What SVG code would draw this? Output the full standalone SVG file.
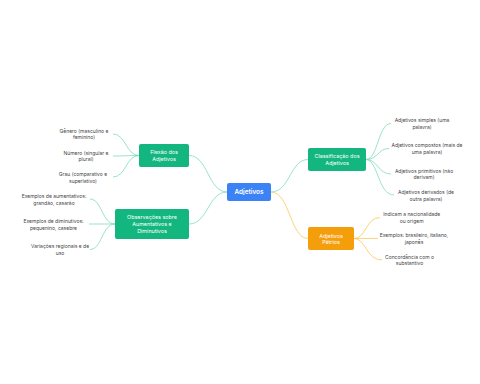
<svg xmlns="http://www.w3.org/2000/svg" width="480" height="384" viewBox="0 0 480 384">
<style>
.leaf{font-family:Inter,"Liberation Sans",sans-serif;font-size:5px;fill:#3f3f46;text-anchor:middle;dominant-baseline:central}
.nt{font-family:Inter,"Liberation Sans",sans-serif;font-size:5.4px;fill:#ffffff;text-anchor:middle;dominant-baseline:central}
.ct{font-family:Inter,"Liberation Sans",sans-serif;font-size:6.4px;font-weight:600;fill:#ffffff;text-anchor:middle;dominant-baseline:central}
.g{fill:none;stroke:#7fdcb6;stroke-width:0.8}
.o{fill:none;stroke:#fbc75a;stroke-width:0.8}
.gb{fill:#13b67e}
.ob{fill:#f59e0b}
.bb{fill:#3b82f6}
</style>
<rect width="480" height="384" fill="#ffffff"/>
<g id="connectors">
<path class="g" d="M227,192 C208,192 208,155.5 189,155.5"/>
<path class="g" d="M227,192 C208,192 208,224 189,224"/>
<path class="g" d="M271,192 C290,192 290,159.5 308,159.5"/>
<path class="o" d="M271,192 C290,192 290,238.5 308,238.5"/>
<path class="g" d="M139,155.5 C126,155.5 126,134 113,134"/>
<path class="g" d="M139,155.5 C126,155.5 126,156 113,156"/>
<path class="g" d="M139,155.5 C126,155.5 126,177 113,177"/>
<path class="g" d="M115,224 C102,224 102,199 90,199"/>
<path class="g" d="M115,224 C102,224 102,224 89,224"/>
<path class="g" d="M115,224 C102,224 102,249.5 90,249.5"/>
<path class="g" d="M366,159.5 C378,159.5 378,123.5 391,123.5"/>
<path class="g" d="M366,159.5 C378,159.5 378,148.5 389,148.5"/>
<path class="g" d="M366,159.5 C378,159.5 378,174 391,174"/>
<path class="g" d="M366,159.5 C378,159.5 378,195 394,195"/>
<path class="o" d="M354,238.5 C366,238.5 366,217.5 380,217.5"/>
<path class="o" d="M354,238.5 C366,238.5 366,238.5 378,238.5"/>
<path class="o" d="M354,238.5 C366,238.5 366,260 382,260"/>
</g>
<g id="n-adjetivos">
<rect class="bb" x="227" y="183" width="44" height="18" rx="2"/>
<text class="ct" x="249" y="192">Adjetivos</text>
</g>
<g id="n-flexao">
<rect class="gb" x="139" y="144" width="50" height="23" rx="2"/>
<text class="nt" x="164" y="152.3">Flexão dos</text>
<text class="nt" x="164" y="159">Adjetivos</text>
</g>
<g id="n-obs">
<rect class="gb" x="115" y="209" width="74" height="30" rx="2"/>
<text class="nt" x="152" y="217.3">Observações sobre</text>
<text class="nt" x="152" y="224.3">Aumentativos e</text>
<text class="nt" x="152" y="231.3">Diminutivos</text>
</g>
<g id="n-classificacao">
<rect class="gb" x="308" y="148" width="58" height="23" rx="2"/>
<text class="nt" x="337" y="156">Classificação dos</text>
<text class="nt" x="337" y="163">Adjetivos</text>
</g>
<g id="n-patrios">
<rect class="ob" x="308" y="227" width="46" height="23" rx="2"/>
<text class="nt" x="331" y="235.5">Adjetivos</text>
<text class="nt" x="331" y="242.3">Pátrios</text>
</g>
<g id="l-genero">
<text class="leaf" x="84" y="131">Gênero (masculino e</text>
<text class="leaf" x="84" y="137">feminino)</text>
</g>
<g id="l-numero">
<text class="leaf" x="86" y="152.7">Número (singular e</text>
<text class="leaf" x="86" y="159">plural)</text>
</g>
<g id="l-grau">
<text class="leaf" x="83" y="173.5">Grau (comparativo e</text>
<text class="leaf" x="83" y="180.5">superlativo)</text>
</g>
<g id="l-aument">
<text class="leaf" x="54" y="196">Exemplos de aumentativos:</text>
<text class="leaf" x="54" y="203">grandão, casarão</text>
</g>
<g id="l-dimin">
<text class="leaf" x="53.5" y="220.5">Exemplos de diminutivos:</text>
<text class="leaf" x="53.5" y="227.5">pequenino, casebre</text>
</g>
<g id="l-variacoes">
<text class="leaf" x="60" y="245.7">Variações regionais e de</text>
<text class="leaf" x="60" y="253">uso</text>
</g>
<g id="l-simples">
<text class="leaf" x="422" y="120">Adjetivos simples (uma</text>
<text class="leaf" x="422" y="126.7">palavra)</text>
</g>
<g id="l-compostos">
<text class="leaf" x="427" y="144.7">Adjetivos compostos (mais de</text>
<text class="leaf" x="427" y="152">uma palavra)</text>
</g>
<g id="l-primitivos">
<text class="leaf" x="424" y="170.7">Adjetivos primitivos (não</text>
<text class="leaf" x="424" y="177.3">derivam)</text>
</g>
<g id="l-derivados">
<text class="leaf" x="426" y="191.7">Adjetivos derivados (de</text>
<text class="leaf" x="426" y="198.7">outra palavra)</text>
</g>
<g id="l-nacionalidade">
<text class="leaf" x="411.7" y="214">Indicam a nacionalidade</text>
<text class="leaf" x="411.7" y="220.7">ou origem</text>
</g>
<g id="l-exemplos">
<text class="leaf" x="414" y="235.2">Exemplos: brasileiro, italiano,</text>
<text class="leaf" x="414" y="242.2">japonês</text>
</g>
<g id="l-concordancia">
<text class="leaf" x="409.5" y="256.7">Concordância com o</text>
<text class="leaf" x="409.5" y="263.3">substantivo</text>
</g>
</svg>
